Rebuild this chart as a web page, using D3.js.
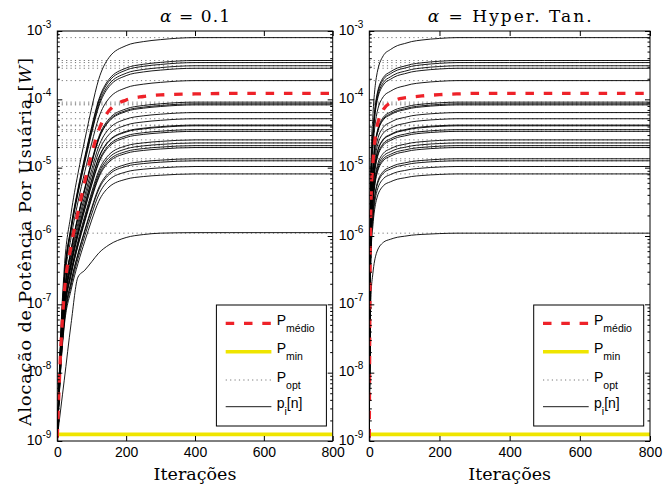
<!DOCTYPE html>
<html>
<head>
<meta charset="utf-8">
<script src="https://cdn.jsdelivr.net/npm/d3@7"></script>
<style>
  body { margin: 0; background: #fff; }
  svg { display: block; }
</style>
</head>
<body>
<svg id="grafico" width="663" height="491"></svg>
<script>
// iteracoes em que as curvas foram lidas
const iteracoes = [0, 2, 5, 10, 20, 40, 60, 80, 100, 120, 150, 200, 250, 300, 400, 500, 600, 800];

// potencias otimas por usuario [W]
const pOpt = [8.0e-4, 3.7e-4, 3.45e-4, 3.1e-4, 2.85e-4, 1.88e-4,
              9.1e-5, 8.6e-5, 8.3e-5, 6.4e-5, 5.2e-5, 4.2e-5, 4.1e-5,
              3.6e-5, 3.4e-5, 2.55e-5, 2.3e-5, 2.1e-5, 1.97e-5,
              1.35e-5, 1.26e-5, 1.04e-5, 8.1e-6, 1.1e-6];

const pMin = 1.25e-9;
const pInicial = 1.12e-9;

// fracao (em escala log) do caminho ate p_opt percorrida em cada iteracao
const progressoAlfa = [0, 0.06, 0.14, 0.26, 0.42, 0.56, 0.66, 0.745, 0.825, 0.895, 0.95, 0.98, 0.99, 0.995, 1, 1, 1, 1];
const progressoTanh = [0, 0.45, 0.7, 0.8, 0.9, 0.955, 0.97, 0.98, 0.985, 0.99, 0.994, 0.998, 1, 1, 1, 1, 1, 1];

// usuario de menor potencia com alpha = 0.1 (curva com joelho)
const pBaixoAlfa = [1.12e-9, 1.35e-9, 1.82e-9, 2.95e-9, 7.6e-9, 5.2e-8, 2.5e-7, 3.16e-7, 4.2e-7, 5.6e-7, 7.4e-7, 9.5e-7, 1.05e-6, 1.1e-6, 1.12e-6, 1.12e-6, 1.12e-6, 1.12e-6];

// potencia media
const pMedioAlfa = [1.12e-9, 2.2e-9, 5.6e-9, 2.2e-8, 1.4e-7, 7.1e-7, 2.2e-6, 6.3e-6, 1.6e-5, 3.5e-5, 6.8e-5, 9.8e-5, 1.1e-4, 1.16e-4, 1.2e-4, 1.22e-4, 1.22e-4, 1.22e-4];
const pMedioTanh = [1.12e-9, 2.0e-7, 3.5e-6, 1.1e-5, 3.5e-5, 7.1e-5, 8.9e-5, 1.0e-4, 1.05e-4, 1.08e-4, 1.12e-4, 1.17e-4, 1.2e-4, 1.22e-4, 1.22e-4, 1.22e-4, 1.22e-4, 1.22e-4];

const xTicks = [0, 200, 400, 600, 800];
const yDecadas = [-9, -8, -7, -6, -5, -4, -3];

const paineis = [
  { esq: 57.3, dir: 332.7, titulo: "0.1", largTitulo: 70, progresso: progressoAlfa, medio: pMedioAlfa, baixo: pBaixoAlfa },
  { esq: 369.3, dir: 650, titulo: "Hyper. Tan.", largTitulo: 164, progresso: progressoTanh, medio: pMedioTanh, baixo: null }
];

const topo = 31, base = 441;
const svg = d3.select("#grafico");
const y = d3.scaleLog().domain([1e-9, 1e-3]).range([base, topo]);

const menores = [];
for (let e = -9; e < -3; e++) for (let m = 2; m <= 9; m++) menores.push(m * Math.pow(10, e));

const VERMELHO = "#ee2229", AMARELO = "#efe500";
const SERIF = "'DejaVu Serif', 'Liberation Serif', serif";
const SANS = "'Liberation Sans', Arial, sans-serif";

paineis.forEach((p, i) => {
  const x = d3.scaleLinear().domain([0, 800]).range([p.esq, p.dir]);
  const g = svg.append("g");

  svg.append("clipPath").attr("id", "clip" + i)
    .append("rect").attr("x", p.esq).attr("y", topo)
    .attr("width", p.dir - p.esq).attr("height", base - topo);

  const area = g.append("g").attr("clip-path", `url(#clip${i})`);

  // P_opt pontilhado
  area.selectAll("line.opt").data(pOpt).enter().append("line")
    .attr("x1", x(0)).attr("x2", x(800))
    .attr("y1", d => y(d)).attr("y2", d => y(d))
    .attr("stroke", "#777").attr("stroke-width", 1)
    .attr("stroke-dasharray", "1.2,3.2");

  const linha = d3.line().x(d => x(d[0])).y(d => y(d[1])).curve(d3.curveMonotoneX);

  // p_i[n]
  const curvas = pOpt.map((po, u) => {
    if (p.baixo && u === pOpt.length - 1) return iteracoes.map((n, k) => [n, p.baixo[k]]);
    return iteracoes.map((n, k) => [n, pInicial * Math.pow(po / pInicial, p.progresso[k])]);
  });
  area.selectAll("path.pi").data(curvas).enter().append("path")
    .attr("d", linha).attr("fill", "none")
    .attr("stroke", "#000").attr("stroke-width", 0.9);

  // P_min
  area.append("line")
    .attr("x1", x(0)).attr("x2", x(800))
    .attr("y1", y(pMin)).attr("y2", y(pMin))
    .attr("stroke", AMARELO).attr("stroke-width", 3.6);

  // P_medio
  area.append("path")
    .attr("d", linha(iteracoes.map((n, k) => [n, p.medio[k]])))
    .attr("fill", "none").attr("stroke", VERMELHO)
    .attr("stroke-width", 3.3).attr("stroke-dasharray", "8.5,9.8");

  // caixa
  g.append("rect").attr("x", p.esq).attr("y", topo)
    .attr("width", p.dir - p.esq).attr("height", base - topo)
    .attr("fill", "none").attr("stroke", "#000").attr("stroke-width", 1);

  // eixos x
  const ax = g.append("g").attr("transform", `translate(0,${base})`)
    .call(d3.axisBottom(x).tickValues(xTicks).tickSize(-5).tickPadding(6).tickFormat(d3.format("d")));
  const axTop = g.append("g").attr("transform", `translate(0,${topo})`)
    .call(d3.axisTop(x).tickValues(xTicks).tickSize(-5).tickFormat(""));

  // eixos y
  const yMaj = yDecadas.map(e => Math.pow(10, e));
  const ayL = g.append("g").attr("transform", `translate(${p.esq},0)`)
    .call(d3.axisLeft(y).tickValues(yMaj).tickSize(-5).tickFormat(""));
  const ayLm = g.append("g").attr("transform", `translate(${p.esq},0)`)
    .call(d3.axisLeft(y).tickValues(menores).tickSize(-2.5).tickFormat(""));
  const ayR = g.append("g").attr("transform", `translate(${p.dir},0)`)
    .call(d3.axisRight(y).tickValues(yMaj).tickSize(-5).tickFormat(""));
  const ayRm = g.append("g").attr("transform", `translate(${p.dir},0)`)
    .call(d3.axisRight(y).tickValues(menores).tickSize(-2.5).tickFormat(""));

  [ax, axTop, ayL, ayLm, ayR, ayRm].forEach(a => {
    a.select(".domain").remove();
    a.selectAll("line").attr("stroke", "#000");
  });
  ax.selectAll("text").attr("font-family", SANS).attr("font-size", 14).attr("fill", "#000");

  // rotulos 10^e
  const rot = g.selectAll("text.ylab").data(yDecadas).enter().append("text")
    .attr("x", p.esq - 6).attr("y", d => y(Math.pow(10, d)) + 3.5)
    .attr("text-anchor", "end")
    .attr("font-family", SANS).attr("font-size", 14);
  rot.append("tspan").text("10");
  rot.append("tspan").attr("dy", -7).attr("font-size", 10).text(d => String(d));

  // titulo
  const t = g.append("text").attr("x", (p.esq + p.dir) / 2).attr("y", 21.5)
    .attr("text-anchor", "middle")
    .attr("textLength", p.largTitulo).attr("lengthAdjust", "spacing")
    .attr("font-family", SERIF).attr("font-size", 17);
  t.append("tspan").attr("font-style", "italic").text("α");
  t.append("tspan").text(" = " + p.titulo);

  // rotulo x
  g.append("text").attr("x", (p.esq + p.dir) / 2).attr("y", 479.5)
    .attr("text-anchor", "middle")
    .attr("font-family", SERIF).attr("font-size", 17.5)
    .text("Iterações");

  // legenda
  const lx = p.dir - 6.3 - 110, ly = 305;
  const leg = g.append("g").attr("transform", `translate(${lx},${ly})`);
  leg.append("rect").attr("width", 110).attr("height", 121)
    .attr("fill", "#fff").attr("stroke", "#000").attr("stroke-width", 1);
  const itens = [
    { cor: VERMELHO, w: 3.3, dash: "8.5,9.8", base: "P", sub: "médio", dy: 18.3 },
    { cor: AMARELO, w: 3.6, dash: null, base: "P", sub: "min", dy: 46.7 },
    { cor: "#777", w: 1, dash: "1.2,3.2", base: "P", sub: "opt", dy: 75 },
    { cor: "#000", w: 0.9, dash: null, base: "p", sub: "i", fim: "[n]", dy: 101.7 }
  ];
  itens.forEach(it => {
    leg.append("line").attr("x1", 9.3).attr("x2", 55).attr("y1", it.dy).attr("y2", it.dy)
      .attr("stroke", it.cor).attr("stroke-width", it.w)
      .attr("stroke-dasharray", it.dash);
    const tx = leg.append("text").attr("x", 60.3).attr("y", it.dy + 1.7)
      .attr("font-family", SANS).attr("font-size", 14);
    tx.append("tspan").text(it.base);
    tx.append("tspan").attr("dy", 7).attr("font-size", 10.5).text(it.sub);
    if (it.fim) tx.append("tspan").attr("dy", -7).attr("font-size", 14).text(it.fim);
  });
});

// rotulo y
const yl = svg.append("text")
  .attr("transform", `translate(30.5,${(topo + base) / 2 + 6}) rotate(-90)`)
  .attr("text-anchor", "middle")
  .attr("textLength", 368).attr("lengthAdjust", "spacing")
  .attr("font-family", SERIF).attr("font-size", 17.5);
yl.append("tspan").text("Alocação de Potência Por Usuária [");
yl.append("tspan").attr("font-style", "italic").text("W");
yl.append("tspan").text("]");
</script>
</body>
</html>
